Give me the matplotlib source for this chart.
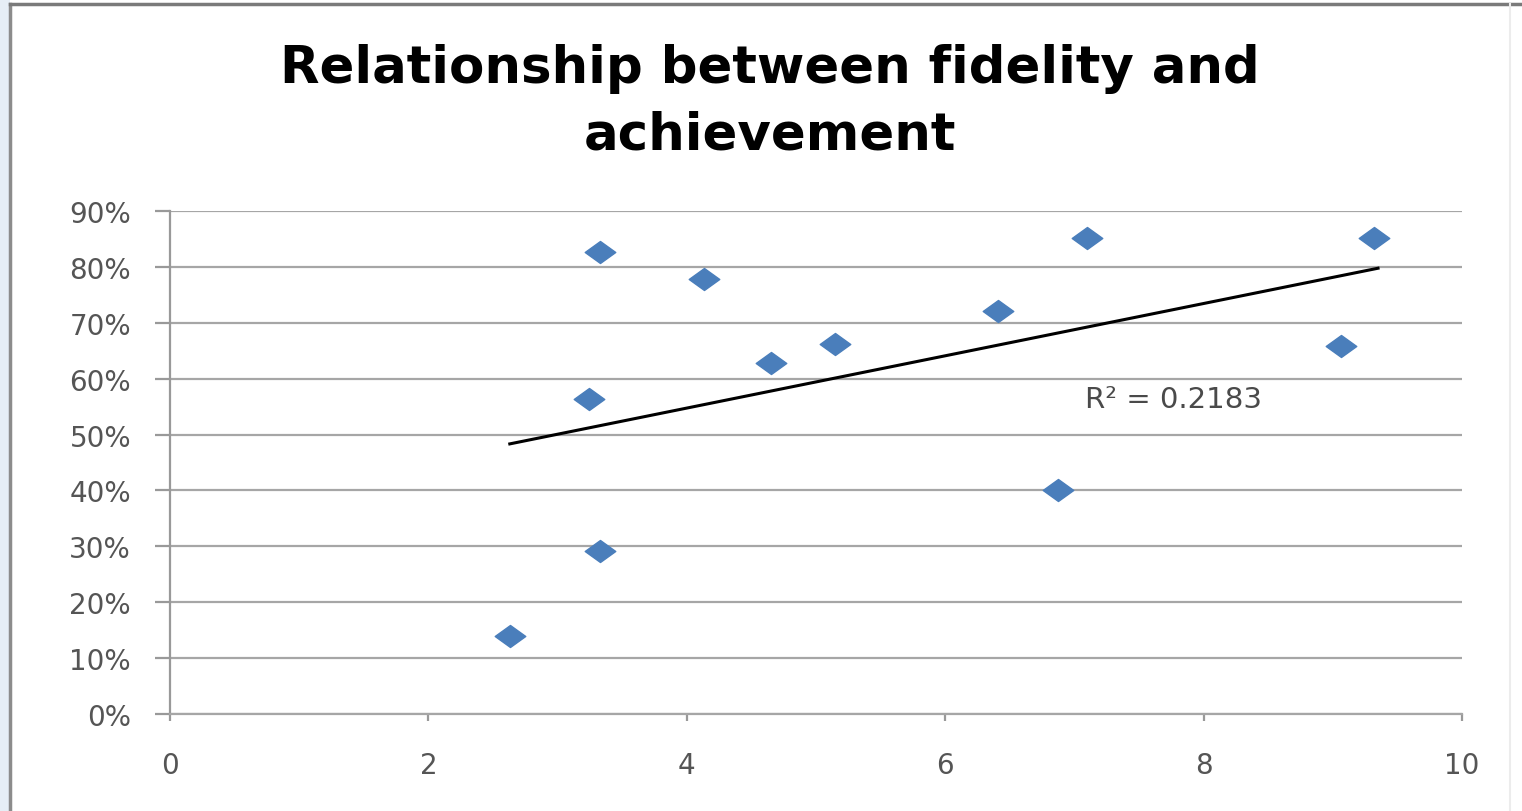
import numpy as np
import matplotlib.pyplot as plt
from matplotlib.path import Path
from matplotlib.patches import Rectangle
from matplotlib.lines import Line2D
from matplotlib.ticker import MultipleLocator, FuncFormatter

# fidelity score vs. achievement (%)
fidelity = [2.63, 3.33, 3.24, 3.33, 4.13, 4.65, 5.15, 6.41, 6.87, 7.10, 9.06, 9.32]
achievement = [14.0, 29.2, 56.4, 82.6, 77.8, 62.8, 66.2, 72.1, 40.1, 85.2, 65.8, 85.2]
r_squared_text = "R² = 0.2183"

fig = plt.figure(figsize=(15.22, 8.12), dpi=100)
fig.patch.set_facecolor("white")

# slide background strip and chart border
fig.add_artist(Rectangle((0, 0), 10 / 1522, 1, transform=fig.transFigure,
                         facecolor="#e6eef6", edgecolor="none", zorder=0))
fig.add_artist(Line2D([10 / 1522, 10 / 1522], [0, 1 - 5 / 812], transform=fig.transFigure,
                      color="#8c8c8c", lw=2.5))
fig.add_artist(Line2D([10 / 1522, 1], [1 - 5 / 812, 1 - 5 / 812], transform=fig.transFigure,
                      color="#7a7a7a", lw=2.5))
fig.add_artist(Line2D([1510 / 1522, 1510 / 1522], [0, 1 - 5 / 812], transform=fig.transFigure,
                      color="#ececec", lw=1.5))

ax = fig.add_axes([170 / 1522, 1 - 715 / 812, (1462 - 170) / 1522, (715 - 212) / 812])

# squat diamond marker
diamond = Path([(-1, 0), (0, 0.72), (1, 0), (0, -0.72), (-1, 0)],
               [Path.MOVETO, Path.LINETO, Path.LINETO, Path.LINETO, Path.CLOSEPOLY])
ax.plot(fidelity, achievement, linestyle="none", marker=diamond, markersize=22,
        color="#4a7ebb", markeredgecolor="#4a7ebb", zorder=3)

# linear trendline over the data range
slope, intercept = np.polyfit(fidelity, achievement, 1)
xt = np.array([min(fidelity), max(fidelity) + 0.03])
ax.plot(xt, slope * xt + intercept, color="black", lw=2.2, zorder=2)

ax.text(7.08, 56.3, r_squared_text, fontsize=21, color="#4a4a4a",
        family="DejaVu Sans", ha="left", va="center")

ax.set_xlim(0, 10)
ax.set_ylim(0, 90)
ax.xaxis.set_major_locator(MultipleLocator(2))
ax.yaxis.set_major_locator(MultipleLocator(10))
ax.yaxis.set_major_formatter(FuncFormatter(lambda v, p: f"{v:.0f}%"))
ax.grid(axis="y", color="#a6a6a6", lw=1.6)
ax.set_axisbelow(True)

for side in ["top", "right"]:
    ax.spines[side].set_visible(False)
ax.spines["left"].set_color("#999999")
ax.spines["left"].set_linewidth(1.6)
ax.spines["bottom"].set_color("#a6a6a6")
ax.spines["bottom"].set_linewidth(1.6)

ax.tick_params(axis="both", colors="#999999", width=1.6,
               labelcolor="#555555", labelsize=20)
ax.tick_params(axis="y", length=11, pad=17)
ax.tick_params(axis="x", length=5, pad=22)
for lbl in ax.get_xticklabels() + ax.get_yticklabels():
    lbl.set_family("DejaVu Sans")

fig.text(770 / 1522, 1 - 102 / 812, "Relationship between fidelity and\nachievement",
         ha="center", va="center", fontsize=37, fontweight="bold",
         family="DejaVu Sans", color="black", linespacing=1.42)

fig.savefig("out.png", dpi=100)
